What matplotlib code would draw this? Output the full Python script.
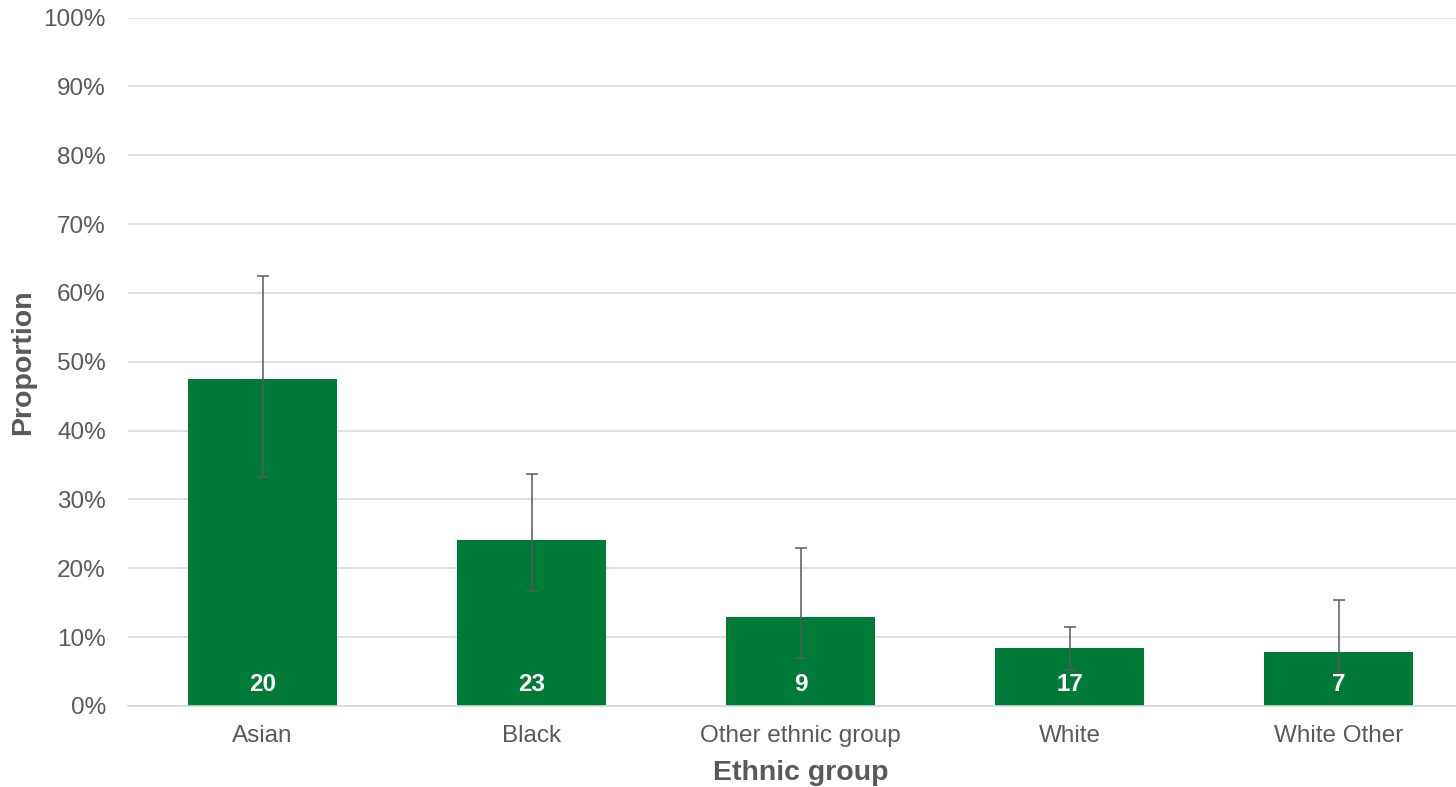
import matplotlib.pyplot as plt
from matplotlib.ticker import PercentFormatter

# values
groups = ["Asian", "Black", "Other ethnic group", "White", "White Other"]
proportion = [47.5, 24.1, 12.9, 8.4, 7.8]
ci_low = [33.3, 16.7, 7.0, 5.2, 4.8]
ci_high = [62.4, 33.7, 23.0, 11.5, 15.4]
counts = [20, 23, 9, 17, 7]

plt.rcParams['font.family'] = ['Liberation Sans', 'DejaVu Sans']

bar_colour = "#007A37"
text_grey = "#595959"

fig = plt.figure(figsize=(14.56, 7.87), dpi=100)
ax = fig.add_axes([128 / 1456, 81 / 787, 1345 / 1456, 688.5 / 787])

x = list(range(len(groups)))
err_lo = [p - lo for p, lo in zip(proportion, ci_low)]
err_hi = [hi - p for p, hi in zip(proportion, ci_high)]

ax.bar(x, proportion, width=0.555, color=bar_colour, zorder=2)
ax.errorbar(x, proportion, yerr=[err_lo, err_hi], fmt='none',
            ecolor="#595959", elinewidth=1.1, capsize=4, capthick=1.1, zorder=3)

# sample sizes at the foot of each bar
for xi, n in zip(x, counts):
    ax.annotate(str(n), (xi, 0), xytext=(0, 15.5), textcoords='offset points',
                ha='center', va='center', color='white', fontsize=17.5,
                fontweight='bold', zorder=4)

ax.set_xlim(-0.5, 4.5)
ax.set_ylim(0, 100)
ax.set_yticks(range(0, 101, 10))
ax.yaxis.set_major_formatter(PercentFormatter(decimals=0))
ax.set_xticks(x)
ax.set_xticklabels(groups)

ax.grid(axis='y', color="#d9d9d9", linewidth=1.2, zorder=0)
ax.set_axisbelow(True)
for side in ['top', 'right', 'left']:
    ax.spines[side].set_visible(False)
ax.spines['bottom'].set_color("#d9d9d9")
ax.spines['bottom'].set_linewidth(1.2)
ax.tick_params(axis='both', length=0, labelsize=17.5, labelcolor=text_grey)
ax.tick_params(axis='x', pad=14)
ax.tick_params(axis='y', pad=16)

ax.set_ylabel("Proportion", fontsize=20.5, fontweight='bold', color=text_grey, labelpad=5)
ax.set_xlabel("Ethnic group", fontsize=20.5, fontweight='bold', color=text_grey, labelpad=9)

fig.savefig("out.png", dpi=100)
